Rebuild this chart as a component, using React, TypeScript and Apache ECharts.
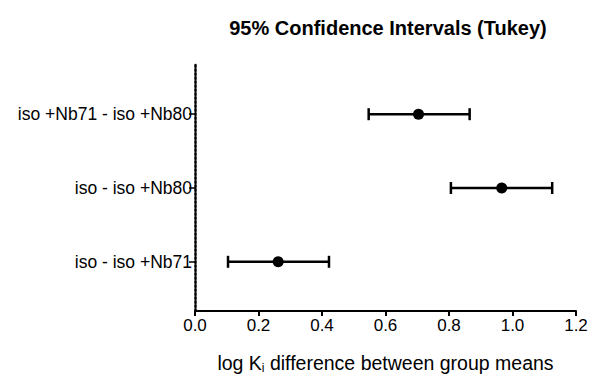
import React, { useEffect, useRef } from "react";
import * as echarts from "echarts";

const categories = ["iso - iso +Nb71", "iso - iso +Nb80", "iso +Nb71 - iso +Nb80"];
const means = [0.262, 0.966, 0.704];
const lowers = [0.104, 0.806, 0.547];
const uppers = [0.422, 1.125, 0.865];
const xTicks = [0, 0.2, 0.4, 0.6, 0.8, 1.0, 1.2];

export default function App() {
  const ref = useRef<HTMLDivElement>(null);
  useEffect(() => {
    document.body.style.margin = "0";
    document.body.style.overflow = "hidden";
    document.documentElement.style.overflow = "hidden";
    const chart = echarts.init(ref.current!, null, { renderer: "svg" });
    const font = "'Liberation Sans', Arial, sans-serif";
    const points = means.map((m, i) => [m, i + 1]);
    const bars = means.map((_, i) => [lowers[i], uppers[i], i + 1]);
    chart.setOption({
      animation: false,
      title: {
        text: "95% Confidence Intervals (Tukey)",
        left: 383,
        top: 13,
        textAlign: "center",
        textStyle: { fontFamily: font, fontSize: 20, fontWeight: "bold", color: "#000" },
      },
      grid: { left: 195, right: 16, top: 65, bottom: 58, containLabel: false },
      xAxis: {
        type: "value",
        min: 0,
        max: 1.2,
        interval: 0.2,
        name: "log K{sub|i} difference between group means",
        nameLocation: "middle",
        nameGap: 40,
        nameTextStyle: {
          fontFamily: font,
          fontSize: 19.5,
          color: "#000",
          rich: { sub: { fontFamily: font, fontSize: 12, color: "#000", padding: [11, 0, 0, 0] } },
        },
        axisLine: { show: true, lineStyle: { color: "#000", width: 2 } },
        axisTick: { show: true, length: 5, lineStyle: { color: "#000", width: 2 } },
        splitLine: { show: false },
        axisLabel: {
          fontFamily: font,
          fontSize: 17,
          color: "#000",
          margin: 6,
          formatter: (v: number) => {
            const t = xTicks.find((x) => Math.abs(x - v) < 1e-9);
            return t === undefined ? "" : t.toFixed(1);
          },
        },
      },
      yAxis: {
        type: "value",
        min: 1 / 3,
        max: 11 / 3,
        axisLine: { show: true, lineStyle: { color: "#000", width: 2.5, type: [2, 2] } },
        axisTick: { show: true, length: 6, customValues: [1, 2, 3], lineStyle: { color: "#000", width: 1.5 } },
        splitLine: { show: false },
        axisLabel: {
          fontFamily: font,
          fontSize: 17.5,
          color: "#000",
          margin: 3,
          customValues: [1, 2, 3],
          formatter: (v: number) => categories[Math.round(v) - 1] ?? "",
        },
      },
      series: [
        {
          type: "custom",
          data: bars,
          renderItem: (params: any, api: any) => {
            const lo = api.coord([api.value(0), api.value(2)]);
            const hi = api.coord([api.value(1), api.value(2)]);
            const h = 6;
            const style = { stroke: "#000", lineWidth: 2.5 };
            return {
              type: "group",
              children: [
                { type: "line", shape: { x1: lo[0], y1: lo[1], x2: hi[0], y2: hi[1] }, style },
                { type: "line", shape: { x1: lo[0], y1: lo[1] - h, x2: lo[0], y2: lo[1] + h }, style },
                { type: "line", shape: { x1: hi[0], y1: hi[1] - h, x2: hi[0], y2: hi[1] + h }, style },
              ],
            };
          },
          z: 2,
        },
        {
          type: "scatter",
          data: points,
          symbol: "circle",
          symbolSize: 11,
          itemStyle: { color: "#000", opacity: 1 },
          z: 3,
        },
      ],
    });
    return () => chart.dispose();
  }, []);
  return <div ref={ref} style={{ width: 592, height: 379, overflow: "hidden" }} />;
}
